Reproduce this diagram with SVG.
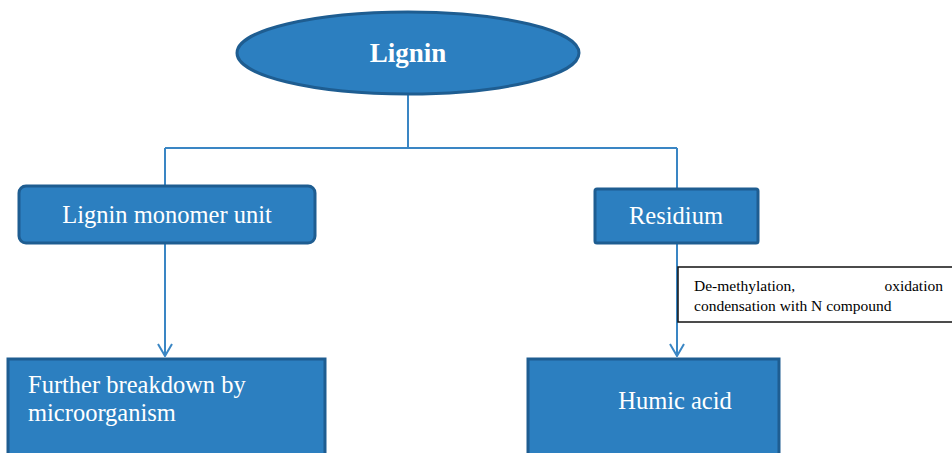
<svg xmlns="http://www.w3.org/2000/svg" width="952" height="453" viewBox="0 0 952 453">
<defs>
<style>
.node{fill:#2c7fc0;stroke:#1e5d91;stroke-width:3}
.lbl{font-family:'Liberation Serif','Times New Roman','DejaVu Serif',serif;fill:#ffffff;font-size:24.5px}
.conn{stroke:#3a86c4;stroke-width:2;fill:none}
.note{font-family:'Liberation Serif','Times New Roman','DejaVu Serif',serif;fill:#000;font-size:15.5px}
</style>
<marker id="arr" markerWidth="14" markerHeight="16" refX="13" refY="8" orient="auto" markerUnits="userSpaceOnUse" viewBox="0 0 14 16">
<path d="M1,1 L13,8 L1,15" fill="none" stroke="#3a86c4" stroke-width="2"/>
</marker>
</defs>
<rect width="952" height="453" fill="#ffffff"/>
<g id="connectors">
<line class="conn" x1="408" y1="95" x2="408" y2="148"/>
<line class="conn" x1="165" y1="148" x2="677" y2="148"/>
<line class="conn" x1="165" y1="148" x2="165" y2="185"/>
<line class="conn" x1="677" y1="148" x2="677" y2="188"/>
<line class="conn" x1="165" y1="243" x2="165" y2="356" marker-end="url(#arr)"/>
<line class="conn" x1="677" y1="243" x2="677" y2="356" marker-end="url(#arr)"/>
</g>
<g id="lignin">
<ellipse class="node" cx="408" cy="53" rx="171" ry="41"/>
<text class="lbl" x="408" y="62" text-anchor="middle" style="font-weight:bold;font-size:27px">Lignin</text>
</g>
<g id="monomer">
<rect class="node" x="19" y="186" width="296" height="57" rx="7"/>
<text class="lbl" x="167" y="223" text-anchor="middle">Lignin monomer unit</text>
</g>
<g id="residium">
<rect class="node" x="595" y="189" width="163" height="54" rx="2"/>
<text class="lbl" x="676" y="224" text-anchor="middle">Residium</text>
</g>
<g id="note">
<rect x="678" y="267" width="290" height="55" fill="#ffffff" stroke="#111" stroke-width="1.5"/>
<text class="note" x="694" y="291">De-methylation,</text>
<text class="note" x="943" y="291" text-anchor="end">oxidation</text>
<text class="note" x="694" y="311">condensation with N compound</text>
</g>
<g id="further">
<rect class="node" x="8" y="359" width="317" height="100"/>
<text class="lbl" x="28" y="393">Further breakdown by</text>
<text class="lbl" x="28" y="421">microorganism</text>
</g>
<g id="humic">
<rect class="node" x="528" y="359" width="251" height="100"/>
<text class="lbl" x="675" y="409" text-anchor="middle">Humic acid</text>
</g>
</svg>
